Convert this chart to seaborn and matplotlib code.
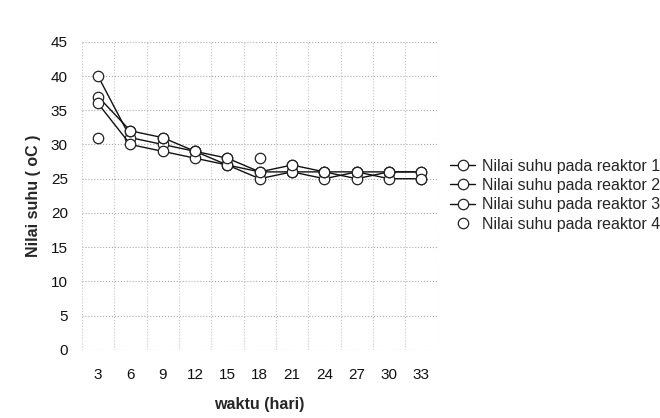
import pandas as pd
import matplotlib.pyplot as plt
import seaborn as sns

# data
hari = [3, 6, 9, 12, 15, 18, 21, 24, 27, 30, 33]
reaktor_1 = [40, 31, 30, 29, 28, 26, 27, 26, 26, 26, 26]
reaktor_2 = [37, 32, 31, 29, 27, 25, 26, 25, 26, 25, 25]
reaktor_3 = [36, 30, 29, 28, 27, 26, 26, 26, 25, 26, 26]
reaktor_4 = [31, 32, 31, 29, 28, 28, 27, 26, 26, 26, 25]
labels = ['Nilai suhu pada reaktor 1', 'Nilai suhu pada reaktor 2',
          'Nilai suhu pada reaktor 3', 'Nilai suhu pada reaktor 4']


def build_frame():
    rows = []
    for lab, vals in zip(labels, [reaktor_1, reaktor_2, reaktor_3, reaktor_4]):
        for i, (h, v) in enumerate(zip(hari, vals)):
            rows.append({'pos': i, 'hari': h, 'suhu': v, 'seri': lab})
    return pd.DataFrame(rows)


def plot_suhu(df):
    sns.set_style('white')
    plt.rcParams['font.family'] = ['Liberation Sans', 'DejaVu Sans']
    fig = plt.figure(figsize=(6.6, 4.18), dpi=100)
    ax = fig.add_axes([0.124, 0.163, 0.539, 0.737])

    for k, lab in enumerate(labels):
        sub = df[df['seri'] == lab]
        ls = '' if k == 3 else '-'
        sns.lineplot(x='pos', y='suhu', data=sub, ax=ax, color='#111111',
                     linestyle=ls, linewidth=1.0, marker='o', markersize=7.5,
                     markerfacecolor='white', markeredgecolor='#222222',
                     markeredgewidth=0.9, label=lab)

    ax.set_xlim(-0.5, len(hari) - 0.5)
    ax.set_ylim(0, 45)
    ax.set_xticks(range(len(hari)))
    ax.set_xticklabels([str(h) for h in hari])
    ax.set_yticks(range(0, 46, 5))
    ax.set_xticks([i - 0.5 for i in range(len(hari) + 1)], minor=True)
    ax.tick_params(axis='both', which='both', length=0, labelsize=11, colors='#111111')
    ax.tick_params(axis='x', pad=13)
    ax.tick_params(axis='y', pad=10)
    ax.grid(True, which='major', axis='y', color='#aaaaaa', linestyle=':', linewidth=0.8)
    ax.grid(True, which='minor', axis='x', color='#c4c4c4', linestyle=':', linewidth=0.8)
    for s in ax.spines.values():
        s.set_visible(False)

    ax.set_xlabel('waktu (hari)', fontweight='bold', fontsize=11.5, labelpad=11)
    ax.set_ylabel('Nilai suhu ( oC )', fontweight='bold', fontsize=11.5, labelpad=7)

    fig.legend(loc='center left', bbox_to_anchor=(0.682, 0.533), frameon=False,
               fontsize=11.5, handlelength=1.56, handletextpad=0.44,
               labelspacing=0.27, borderpad=0, borderaxespad=0)
    ax.get_legend().remove()
    fig.savefig('out.png', dpi=100)


plot_suhu(build_frame())
